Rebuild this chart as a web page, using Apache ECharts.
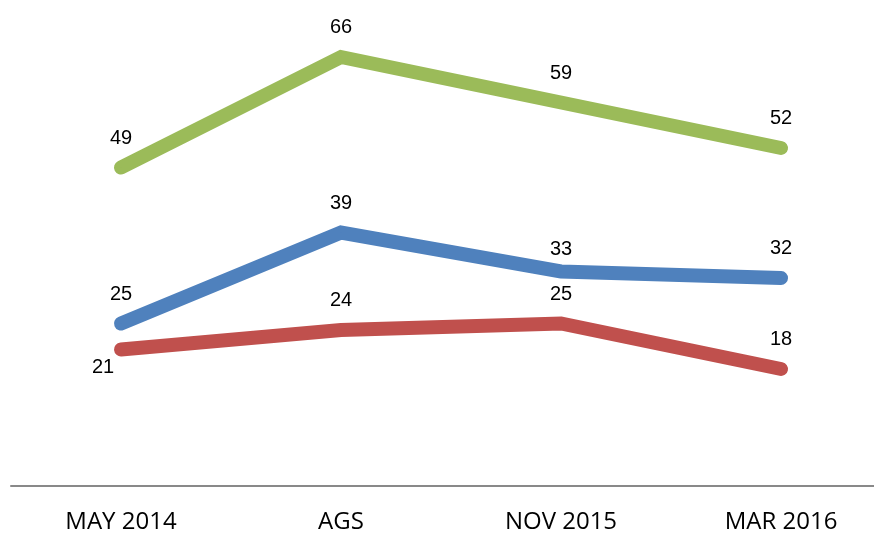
<!DOCTYPE html>
<html>
<head>
<meta charset="utf-8">
<script src="https://cdn.jsdelivr.net/npm/echarts@6/dist/echarts.min.js"></script>
<style>
  html, body { margin: 0; padding: 0; background: #fff; overflow: hidden; }
  #main { width: 891px; height: 534px; }
</style>
</head>
<body>
<div id="main"></div>
<script>
// categories + values
var categories = ['MAY 2014', 'AGS', 'NOV 2015', 'MAR 2016'];
var greenValues = [49, 66, 59, 52];
var blueValues = [25, 39, 33, 32];
var redValues = [21, 24, 25, 18];

var myChart = echarts.init(document.getElementById('main'));

// labelTweaks: index -> label override (a couple of labels sit off the default spot)
function lineSeries(name, data, color, labelTweaks) {
  return {
    name: name,
    type: 'line',
    data: data.map(function (v, i) {
      if (labelTweaks && labelTweaks[i]) {
        return { value: v, label: labelTweaks[i] };
      }
      return v;
    }),
    symbol: 'circle',
    symbolSize: 1,
    showSymbol: true,
    lineStyle: { color: color, width: 14, cap: 'round', join: 'miter' },
    itemStyle: { color: color },
    label: {
      show: true,
      position: 'top',
      distance: 19,
      color: '#000',
      fontSize: 20,
      fontFamily: 'Liberation Sans'
    },
    z: 3
  };
}

myChart.setOption({
  animation: false,
  grid: { left: 11, top: 31, right: 0, bottom: 45, containLabel: false },
  xAxis: {
    type: 'category',
    data: categories,
    boundaryGap: true,
    axisLine: { lineStyle: { color: '#898989', width: 2 } },
    axisTick: { show: false },
    axisLabel: { color: '#000', fontSize: 24, fontFamily: 'Open Sans', margin: 24 }
  },
  yAxis: {
    type: 'value',
    min: 0,
    max: 70,
    show: false,
    splitLine: { show: false }
  },
  series: [
    lineSeries('green', greenValues, '#9BBB59'),
    lineSeries('blue', blueValues, '#4F81BD', { 2: { distance: 12 } }),
    lineSeries('red', redValues, '#C0504D', { 0: { position: 'bottom', distance: 7, offset: [-18, 0] } })
  ]
});
</script>
</body>
</html>
